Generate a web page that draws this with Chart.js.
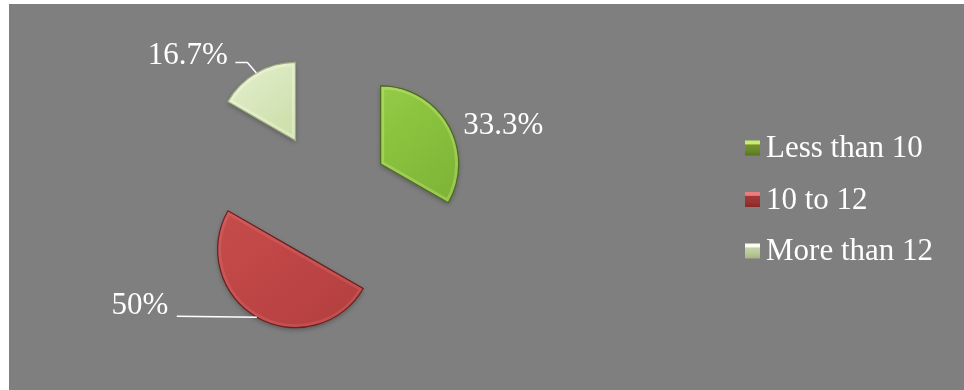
<!DOCTYPE html>
<html>
<head>
<meta charset="utf-8">
<script src="https://cdn.jsdelivr.net/npm/chart.js@4"></script>
<style>
  html, body { margin: 0; padding: 0; background: #ffffff; }
  #wrap { position: absolute; left: 9px; top: 4px; width: 955px; height: 386px; background: #7f7f7f; }
  canvas { display: block; }
</style>
</head>
<body>
<div id="wrap"><canvas id="c" width="955" height="386"></canvas></div>
<script>
// Share of respondents per group (percent)
const categories = ['Less than 10', '10 to 12', 'More than 12'];
const shares = [33.3, 50, 16.7];

// Slice colours: highlight, body, shade, outline
const palette = [
  { hi: '#a0d254', base: '#8cc43f', lo: '#7cb034', edge: '#4b6b1b', rim: 'rgba(230,255,170,0.25)' },
  { hi: '#c85050', base: '#c24747', lo: '#b43f3f', edge: '#6b1f1f', rim: 'rgba(255,160,160,0.16)' },
  { hi: '#e6f0d2', base: '#cfe1ae', lo: '#c2d59f', edge: '#9cad7c', rim: 'rgba(255,255,240,0.30)' }
];
// Legend swatch gradients (top to bottom)
const swatches = [
  ['#c9ee6e', '#c9ee6e', '#74932e', '#6a8829', '#587420'],
  ['#ea7e7e', '#ea7e7e', '#a53636', '#9c3131', '#862828'],
  ['#fbfdf2', '#fbfdf2', '#c4d3a6', '#b6c796', '#a3b386']
];

const textFont = '31px "Liberation Serif", "Times New Roman", serif';
const textColor = '#ffffff';

// Per-slice label placement, relative to the middle of each slice's outer arc
const labelLayout = [
  { leader: null, text: [15, 9], align: 'left' },
  { leader: [[-80, -1]], text: [-88.5, -3], align: 'right' },
  { leader: [[-9, -10.5], [-21, -10.5]], text: [-28.5, -9], align: 'right' }
];

function slicePath(arc) {
  const p = arc.getProps(['x', 'y', 'startAngle', 'endAngle', 'outerRadius'], true);
  const mid = (p.startAngle + p.endAngle) / 2;
  const shift = arc.options.offset || 0;
  const cx = p.x + Math.cos(mid) * shift;
  const cy = p.y + Math.sin(mid) * shift;
  const path = new Path2D();
  path.moveTo(cx, cy);
  path.arc(cx, cy, p.outerRadius, p.startAngle, p.endAngle);
  path.closePath();
  return { path, cx, cy, r: p.outerRadius, mid,
    ax: cx + Math.cos(mid) * p.outerRadius, ay: cy + Math.sin(mid) * p.outerRadius };
}

// Exploded slices with a soft bevelled finish
const bevelSlices = {
  id: 'bevelSlices',
  beforeDatasetsDraw(chart) {
    const ctx = chart.ctx;
    chart.getDatasetMeta(0).data.forEach((arc, i) => {
      const s = slicePath(arc);
      const pal = palette[i];
      const g = ctx.createLinearGradient(s.cx - s.r, s.cy - s.r, s.cx + s.r * 0.6, s.cy + s.r);
      g.addColorStop(0, pal.hi);
      g.addColorStop(0.45, pal.base);
      g.addColorStop(1, pal.lo);
      ctx.save();
      ctx.shadowColor = 'rgba(0,0,0,0.30)';
      ctx.shadowBlur = 5;
      ctx.shadowOffsetY = 2;
      ctx.fillStyle = g;
      ctx.fill(s.path);
      ctx.restore();
      ctx.save();
      ctx.clip(s.path);
      ctx.lineWidth = 7;
      ctx.strokeStyle = pal.rim;
      ctx.stroke(s.path);
      ctx.restore();
      ctx.save();
      ctx.lineWidth = 1.2;
      ctx.strokeStyle = pal.edge;
      ctx.stroke(s.path);
      ctx.restore();
    });
    return false;
  }
};

// Percentage labels with leader lines
const sliceLabels = {
  id: 'sliceLabels',
  afterDraw(chart) {
    const ctx = chart.ctx;
    const values = chart.data.datasets[0].data;
    chart.getDatasetMeta(0).data.forEach((arc, i) => {
      const s = slicePath(arc);
      const lay = labelLayout[i];
      ctx.save();
      if (lay.leader) {
        ctx.beginPath();
        ctx.moveTo(s.ax, s.ay);
        lay.leader.forEach(([dx, dy]) => ctx.lineTo(s.ax + dx, s.ay + dy));
        ctx.strokeStyle = '#ffffff';
        ctx.lineWidth = 1.5;
        ctx.stroke();
      }
      ctx.font = textFont;
      ctx.fillStyle = textColor;
      ctx.textAlign = lay.align;
      ctx.textBaseline = 'alphabetic';
      ctx.fillText(values[i] + '%', s.ax + lay.text[0], s.ay + lay.text[1]);
      ctx.restore();
    });
  }
};

// Legend on the right
const sideLegend = {
  id: 'sideLegend',
  afterDraw(chart) {
    const ctx = chart.ctx;
    const x0 = chart.chartArea.right + 100;
    const y0 = 144;
    const step = 51.5;
    const box = 15;
    chart.data.labels.forEach((label, i) => {
      const cy = y0 + i * step;
      const top = cy - box / 2;
      const g = ctx.createLinearGradient(0, top, 0, top + box);
      const st = swatches[i];
      g.addColorStop(0, st[0]);
      g.addColorStop(0.22, st[1]);
      g.addColorStop(0.3, st[2]);
      g.addColorStop(0.7, st[3]);
      g.addColorStop(1, st[4]);
      ctx.fillStyle = g;
      ctx.fillRect(x0, top, box, box);
      ctx.font = textFont;
      ctx.fillStyle = textColor;
      ctx.textAlign = 'left';
      ctx.textBaseline = 'alphabetic';
      ctx.fillText(label, x0 + box + 6, cy + 9);
    });
  }
};

new Chart(document.getElementById('c'), {
  type: 'pie',
  data: {
    labels: categories,
    datasets: [{
      data: shares,
      backgroundColor: palette.map(p => p.base),
      borderWidth: 0,
      offset: [62, 63, 63],
      radius: 78
    }]
  },
  options: {
    responsive: false,
    animation: false,
    events: [],
    radius: 78,
    layout: { padding: { left: 0, right: 319, top: 0, bottom: 4 } },
    plugins: { legend: { display: false }, tooltip: { enabled: false } }
  },
  plugins: [bevelSlices, sliceLabels, sideLegend]
});
</script>
</body>
</html>
